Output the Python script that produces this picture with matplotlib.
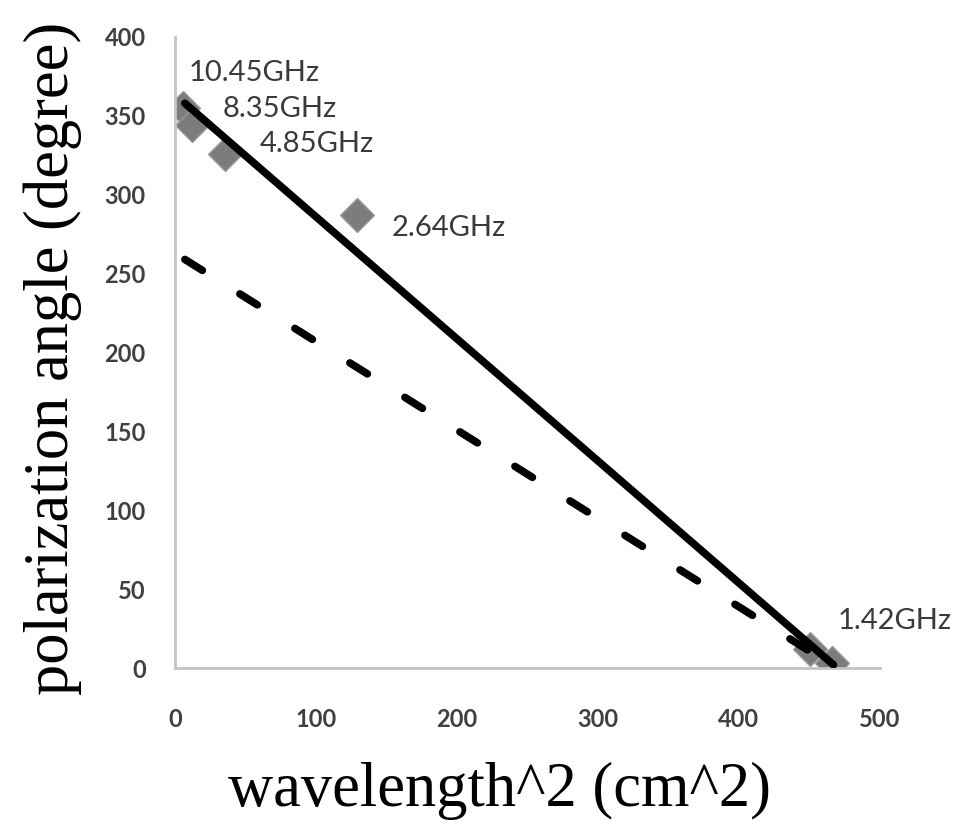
import matplotlib
matplotlib.use("Agg")
import matplotlib.pyplot as plt

# wavelength^2 (cm^2) and polarization angle (degree)
lam2 = [5.7, 12, 35.5, 129, 450, 466]
angle = [355, 344, 326, 287, 12, 3]
freq_labels = ["10.45GHz", "8.35GHz", "4.85GHz", "2.64GHz", "1.42GHz", ""]
# label offsets in points from each marker
label_offsets = [(4, 25), (22, 12), (25, 7), (25, -9), (20, 20), (0, 0)]

# the two fitted lines, end points
fit_x = [7, 467]
fit_y = [358, 2]
dash_x = [7, 462]
dash_y = [259, 4]

xticks = [0, 100, 200, 300, 400, 500]
yticks = [0, 50, 100, 150, 200, 250, 300, 350, 400]

fig = plt.figure(figsize=(9.65, 8.34), dpi=100)
ax = fig.add_axes([175 / 965, 1 - 668 / 834, 705 / 965, 631 / 834])

ax.plot(lam2, angle, linestyle="none", marker="D", markersize=17.5,
        markerfacecolor="#7c7c7c", markeredgecolor="#9a9a9a", markeredgewidth=1.0, zorder=2)

ax.plot(fit_x, fit_y, color="black", linewidth=5.5, solid_capstyle="round", zorder=3)
ax.plot(dash_x, dash_y, color="black", linewidth=5.5, dashes=(2.7, 5.8),
        dash_capstyle="round", zorder=3)

for x, y, txt, off in zip(lam2, angle, freq_labels, label_offsets):
    if txt:
        ax.annotate(txt, xy=(x, y), xytext=off, textcoords="offset points",
                    ha="left", va="center", fontsize=21, family="Lato", color="#3a3a3a")

ax.set_xlim(0, 500)
ax.set_ylim(0, 400)
ax.set_xticks(xticks)
ax.set_yticks(yticks)
for lab in ax.get_xticklabels() + ax.get_yticklabels():
    lab.set_family("Lato")
    lab.set_fontweight("bold")
    lab.set_fontsize(17)
    lab.set_color("#404040")
ax.tick_params(axis="x", length=0, pad=29)
ax.tick_params(axis="y", length=0, pad=21)

for side in ("top", "right"):
    ax.spines[side].set_visible(False)
for side in ("left", "bottom"):
    ax.spines[side].set_color("#c4c4c4")
    ax.spines[side].set_linewidth(2)

ax.set_xlabel("wavelength^2 (cm^2)", family="Liberation Serif", fontsize=45)
ax.set_ylabel("polarization angle (degree)", family="Liberation Serif", fontsize=45)
ax.xaxis.set_label_coords((499 - 175) / 705, (668 - 762) / 631)
ax.yaxis.set_label_coords((82 - 175) / 705, 0.49)

fig.savefig("out.png", dpi=100)
